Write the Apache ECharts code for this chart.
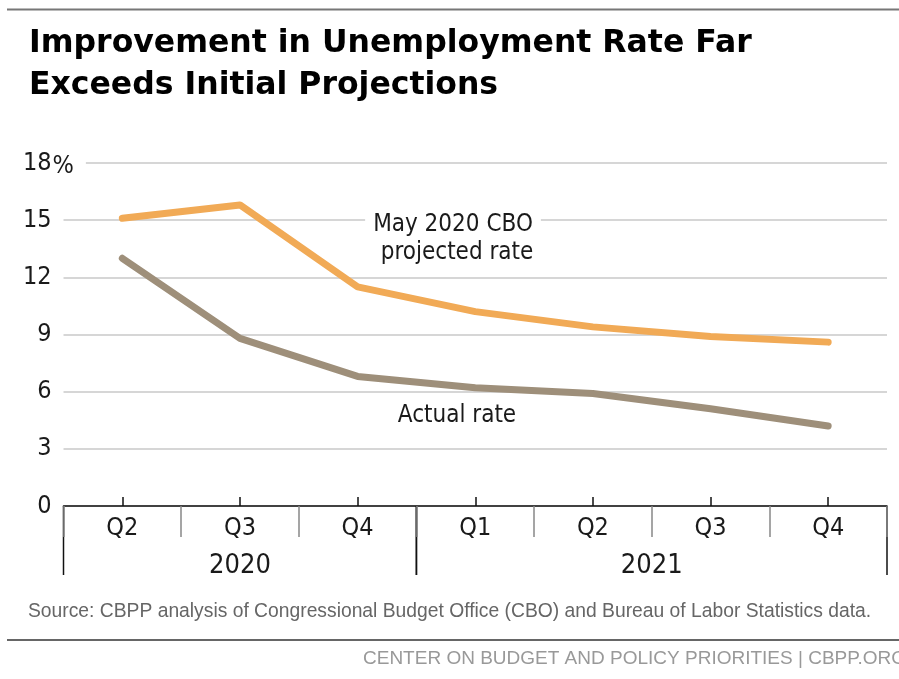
<!DOCTYPE html>
<html>
<head>
<meta charset="utf-8">
<script src="https://cdn.jsdelivr.net/npm/echarts@6/dist/echarts.min.js"></script>
<style>
  html, body { margin: 0; padding: 0; background: #fff; }
  #main { width: 899px; height: 679px; }
</style>
</head>
<body>
<div id="main"></div>
<script>
// 数据
var quarters = ['Q2', 'Q3', 'Q4', 'Q1', 'Q2', 'Q3', 'Q4'];
var years = ['2020', '2021'];
var yearCounts = [3, 4];
var cboRate = [15.1, 15.8, 11.5, 10.2, 9.4, 8.9, 8.6];
var actualRate = [13.0, 8.8, 6.8, 6.2, 5.9, 5.1, 4.2];
var yTicks = [0, 3, 6, 9, 12, 15, 18];

var narrow = '"DejaVu Sans Condensed", sans-serif';

var myChart = echarts.init(document.getElementById('main'));

myChart.setOption({
    animation: false,
    backgroundColor: '#fff',
    grid: { left: 63.5, right: 12, top: 163, bottom: 173 },
    xAxis: [{
        type: 'category',
        data: quarters,
        boundaryGap: true,
        axisLine: { lineStyle: { color: '#111', width: 1.5 } },
        axisTick: { show: true, alignWithLabel: false, length: 31, lineStyle: { color: '#888', width: 1.5 } },
        axisLabel: { fontFamily: narrow, fontSize: 25, color: '#1a1a1a', margin: 10 }
    }, {
        type: 'category',
        data: quarters,
        position: 'bottom',
        boundaryGap: true,
        axisLine: { show: false },
        axisTick: { show: true, inside: true, alignWithLabel: true, length: 9, lineStyle: { color: '#111', width: 1.5 } },
        axisLabel: { show: false }
    }],
    yAxis: {
        type: 'value',
        min: yTicks[0],
        max: yTicks[yTicks.length - 1],
        interval: 3,
        axisLine: { show: false },
        axisTick: { show: false },
        splitLine: { lineStyle: { color: '#c9c9c9', width: 1.5 } },
        axisLabel: {
            fontFamily: narrow, fontSize: 25, color: '#1a1a1a', margin: 12,
            padding: [6, 0, 0, 0]
        }
    },
    series: [{
        name: 'Actual rate',
        type: 'line',
        data: actualRate,
        symbol: 'none',
        lineStyle: { color: '#9e8f7a', width: 7, cap: 'round', join: 'round' }
    }, {
        name: 'May 2020 CBO projected rate',
        type: 'line',
        data: cboRate,
        symbol: 'none',
        lineStyle: { color: '#f1aa56', width: 7, cap: 'round', join: 'round' }
    }]
});

// 分组刻度线、年份标签等
function px(i, v) {
    return myChart.convertToPixel({ gridIndex: 0 }, [i, v]);
}
var bw = px(1, 0)[0] - px(0, 0)[0];
var y0 = px(0, 0)[1];
var els = [];

var start = 0;
for (var k = 0; k < years.length; k++) {
    var left = px(start, 0)[0] - bw / 2;
    var right = px(start + yearCounts[k] - 1, 0)[0] + bw / 2;
    els.push({ type: 'line', shape: { x1: left, y1: y0, x2: left, y2: y0 + 69 }, style: { stroke: '#111', lineWidth: 1.5 } });
    els.push({ type: 'line', shape: { x1: right, y1: y0, x2: right, y2: y0 + 69 }, style: { stroke: '#111', lineWidth: 1.5 } });
    els.push({
        type: 'text', x: (left + right) / 2, y: y0 + 60,
        style: { text: years[k], fontFamily: narrow, fontSize: 27, fill: '#1a1a1a', align: 'center', verticalAlign: 'middle' }
    });
    start += yearCounts[k];
}

// 18% 的百分号
var yTop = px(0, 18)[1];
els.push({
    type: 'text', x: 51.5, y: yTop + 3,
    style: {
        text: '%', fontFamily: narrow, fontSize: 25, fill: '#1a1a1a', align: 'left', verticalAlign: 'middle',
        backgroundColor: '#fff', padding: [0, 12, 0, 1]
    }
});

// 线条注释
els.push({
    type: 'text', x: 453, y: 225,
    style: { text: 'May 2020 CBO', fontFamily: narrow, fontSize: 24, fill: '#1a1a1a', align: 'center', verticalAlign: 'middle', backgroundColor: '#fff', padding: [0, 8] }
});
els.push({
    type: 'text', x: 457, y: 253,
    style: { text: 'projected rate', fontFamily: narrow, fontSize: 24, fill: '#1a1a1a', align: 'center', verticalAlign: 'middle' }
});
els.push({
    type: 'text', x: 457, y: 416,
    style: { text: 'Actual rate', fontFamily: narrow, fontSize: 24, fill: '#1a1a1a', align: 'center', verticalAlign: 'middle' }
});

// 标题、来源、页脚
els.push({ type: 'line', shape: { x1: 7, y1: 9.5, x2: 899, y2: 9.5 }, style: { stroke: '#777', lineWidth: 2 } });
els.push({
    type: 'text', x: 29, y: 44,
    style: { text: 'Improvement in Unemployment Rate Far', fontFamily: '"DejaVu Sans", sans-serif', fontWeight: 'bold', fontSize: 31.5, fill: '#000', verticalAlign: 'middle' }
});
els.push({
    type: 'text', x: 29, y: 86,
    style: { text: 'Exceeds Initial Projections', fontFamily: '"DejaVu Sans", sans-serif', fontWeight: 'bold', fontSize: 31.5, fill: '#000', verticalAlign: 'middle' }
});
els.push({
    type: 'text', x: 28, y: 612,
    style: { text: 'Source: CBPP analysis of Congressional Budget Office (CBO) and Bureau of Labor Statistics data.', fontFamily: '"Liberation Sans", sans-serif', fontSize: 19.3, fill: '#666', verticalAlign: 'middle' }
});
els.push({ type: 'line', shape: { x1: 7, y1: 640, x2: 899, y2: 640 }, style: { stroke: '#666', lineWidth: 2 } });
els.push({
    type: 'text', x: 363, y: 659,
    style: { text: 'CENTER ON BUDGET AND POLICY PRIORITIES | CBPP.ORG', fontFamily: '"Liberation Sans", sans-serif', fontSize: 19, fill: '#999', verticalAlign: 'middle' }
});

myChart.setOption({ graphic: { elements: els } });
</script>
</body>
</html>
